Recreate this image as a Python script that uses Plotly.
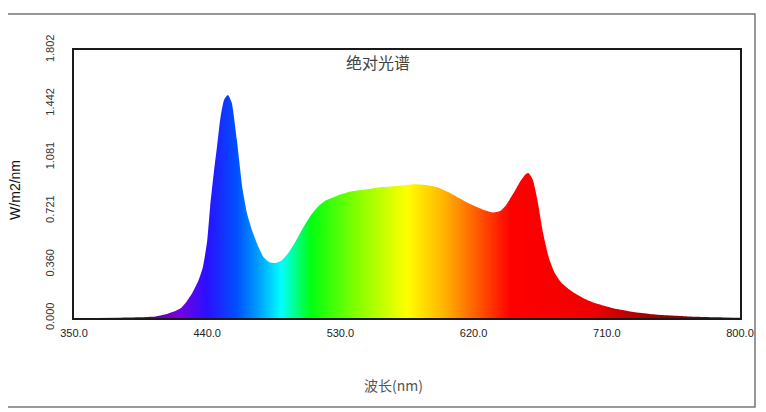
import plotly.graph_objects as go

# spectrum
wavelength = [350, 380, 395, 405, 412, 418, 422, 426, 430, 434, 437, 440, 442,
              444.5, 446.6, 449, 451.5, 454, 456.5, 460, 464, 467, 471, 475,
              478, 482, 486, 490, 495, 500, 505, 510, 515, 520, 525, 530, 537,
              548, 558, 570, 580, 588, 595, 604, 615, 626, 633, 638, 642, 647,
              651, 655, 657, 660, 663, 667, 671, 675, 680, 687, 695, 701, 710,
              717, 728, 739, 750, 762, 775, 790, 800]
irradiance = [0.0, 0.002, 0.005, 0.01, 0.025, 0.045, 0.065, 0.11, 0.17, 0.25,
              0.34, 0.52, 0.75, 0.98, 1.15, 1.35, 1.47, 1.50, 1.45, 1.20, 0.86,
              0.70, 0.57, 0.47, 0.41, 0.375, 0.37, 0.385, 0.44, 0.52, 0.61,
              0.69, 0.75, 0.79, 0.81, 0.83, 0.85, 0.865, 0.88, 0.89, 0.90,
              0.895, 0.88, 0.84, 0.78, 0.73, 0.71, 0.72, 0.76, 0.84, 0.91,
              0.965, 0.975, 0.93, 0.80, 0.57, 0.40, 0.30, 0.23, 0.175, 0.13,
              0.105, 0.078, 0.06, 0.04, 0.027, 0.018, 0.012, 0.007, 0.004,
              0.002]

x_ticks = [350, 440, 530, 620, 710, 800]
y_ticks = [0.0, 0.360, 0.721, 1.081, 1.442, 1.802]

# wavelength -> colour stops for the rainbow fill
color_nm = [350, 400, 420, 440, 460, 475, 490, 510, 540, 575, 600, 620, 645, 700, 740, 800]
color_rgb = ["#3a0050", "#5a0090", "#7a00e0", "#2a10ff", "#0050ff", "#00a0ff",
             "#00ffff", "#00ff10", "#80ff00", "#ffff00", "#ffb400", "#ff6400",
             "#ff0000", "#f00000", "#a00000", "#700000"]
scale = [[(w - 350) / 450, c] for w, c in zip(color_nm, color_rgb)]

fig = go.Figure(go.Scatter(
    x=wavelength, y=irradiance,
    mode="lines",
    line=dict(width=0, shape="spline", smoothing=0.6),
    fill="tozeroy",
    fillgradient=dict(type="horizontal", colorscale=scale, start=350, stop=800),
    hoverinfo="x+y",
))

fig.update_xaxes(
    range=[350, 800], tickvals=x_ticks, ticktext=[f"{v:.1f}" for v in x_ticks],
    showgrid=False, zeroline=False, ticks="", ticklabelstandoff=4,
    showline=True, linecolor="#1a1a1a", linewidth=2, mirror=True,
    tickfont=dict(family="Liberation Sans", size=11, color="#222"),
)
fig.update_yaxes(
    range=[0, 1.802], tickvals=y_ticks, ticktext=[f"{v:.3f}" for v in y_ticks],
    tickangle=-90, showgrid=False, zeroline=False, ticks="", ticklabelstandoff=14,
    showline=True, linecolor="#1a1a1a", linewidth=2, mirror=True,
    tickfont=dict(family="Liberation Sans", size=11, color="#333"),
)

# page body has an 8px margin, so the figure is sized to the visible area
fig.update_layout(
    width=758, height=404,
    margin=dict(l=66, r=26, t=42, b=94),
    paper_bgcolor="white", plot_bgcolor="white",
    showlegend=False,
    shapes=[dict(type="rect", xref="paper", yref="paper",
                 x0=-0.105, x1=1.0225, y0=-0.332, y1=1.134,
                 line=dict(color="#777", width=1.5))],
    annotations=[
        dict(text="绝对光谱", xref="paper", yref="paper", x=0.4565, y=0.955,
             xanchor="center", yanchor="middle", showarrow=False,
             font=dict(family="Noto Sans CJK SC", size=16, color="#444")),
        dict(text="波长(nm)", xref="paper", yref="paper", x=0.479, y=-0.25,
             xanchor="center", yanchor="middle", showarrow=False,
             font=dict(family="Noto Sans CJK SC", size=14, color="#555")),
        dict(text="W/m2/nm", xref="paper", yref="paper", x=-0.0886, y=0.478,
             xanchor="center", yanchor="middle", textangle=-90, showarrow=False,
             font=dict(family="Liberation Sans", size=14, color="#111")),
    ],
)

fig.write_html("out.html")
